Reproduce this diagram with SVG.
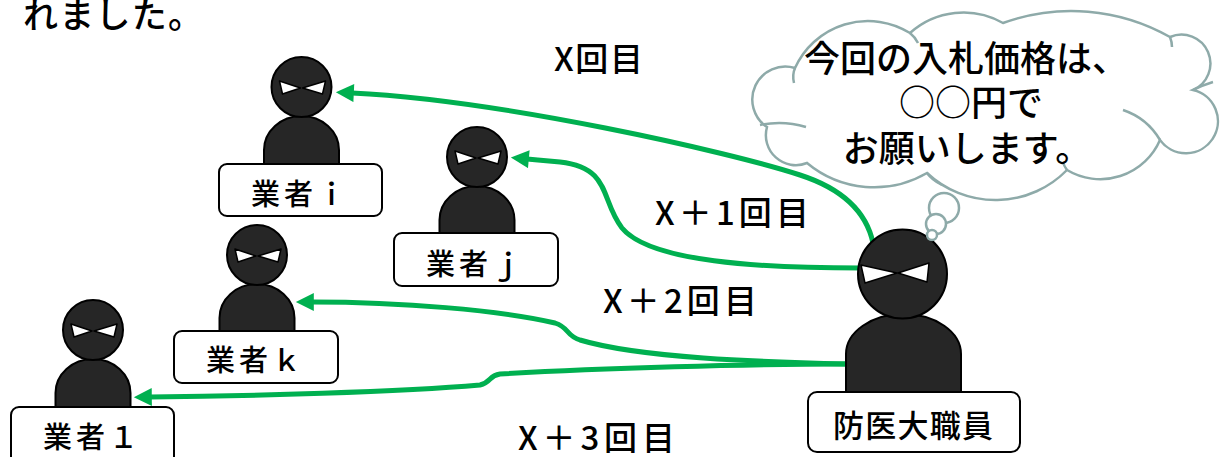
<svg xmlns="http://www.w3.org/2000/svg" xmlns:xlink="http://www.w3.org/1999/xlink" width="1222" height="457" viewBox="0 0 1222 457">
  <style>
    text { font-family: "Noto Sans CJK JP", "Noto Sans", sans-serif; font-weight: 500; fill: #000; }
    .head { fill: #262626; stroke: #000; stroke-width: 2; }
    .body { fill: #262626; stroke: #000; stroke-width: 2; }
    .eye { fill: #fff; stroke: #000; stroke-width: 1.5; stroke-linejoin: round; }
    .tag { fill: #fff; stroke: #000; stroke-width: 2; }
    .tagtext { font-size: 29px; }
    .lbl { font-size: 33px; }
    .cloud { fill: #fff; stroke: #8eaaa9; stroke-width: 2.5; }
    .crease { fill: none; stroke: #8eaaa9; stroke-width: 2.5; }
    .flow { fill: none; stroke: #00b050; stroke-width: 5; stroke-linecap: butt; }
  </style>
  <defs>
    <marker id="ah" viewBox="0 0 10 10" refX="1" refY="5" markerWidth="4" markerHeight="3.6" orient="auto-start-reverse" markerUnits="strokeWidth">
      <path d="M0,0 L10,5 L0,10 Z" fill="#00b050"/>
    </marker>
    <!-- bidder figure, head centred at the origin -->
    <g id="person">
      <path class="body" d="M-37.5,80 L-37.5,63 A37.5,34 0 0 1 37.5,63 L37.5,80 Z"/>
      <circle class="head" cx="0" cy="0" r="30"/>
      <path class="eye" d="M-22,-6 L-1,1 L-19,7 Z"/>
      <path class="eye" d="M24,-6 L1,1 L21,7 Z"/>
    </g>
  </defs>

  <rect width="1222" height="457" fill="#fff"/>

  <text x="23" y="28" font-size="35" textLength="180" lengthAdjust="spacing">れました。</text>

  <!-- connectors -->
  <g id="connectors">
    <path class="flow" marker-end="url(#ah)" d="M873,243 C866,210 840,188 800,175 C730,152 500,100 352,93"/>
    <path class="flow" marker-end="url(#ah)" d="M861,268 C760,268 650,262 622,228 C600,200 612,168 560,162 C548,161 538,160 527,159"/>
    <path class="flow" marker-end="url(#ah)" d="M847,364 C760,362 640,358 580,340 C565,335 570,328 555,323 C500,310 400,302 312,302"/>
    <path class="flow" marker-end="url(#ah)" d="M847,364 C750,364 600,368 500,374 C488,376 492,382 480,385 C400,392 250,396 150,397"/>
  </g>

  <!-- round labels -->
  <g id="round-labels">
    <text class="lbl" x="554" y="71" textLength="89" lengthAdjust="spacing">X回目</text>
    <text class="lbl" x="655" y="225" textLength="154" lengthAdjust="spacing">X＋1回目</text>
    <text class="lbl" x="603" y="313" textLength="154" lengthAdjust="spacing">X＋2回目</text>
    <text class="lbl" x="518" y="450" textLength="157" lengthAdjust="spacing">X＋3回目</text>
  </g>

  <g id="bidder-i">
    <use xlink:href="#person" transform="translate(301.5,87)"/>
    <rect class="tag" x="219" y="164" width="163" height="52" rx="8"/>
    <text class="tagtext" x="251" y="205" textLength="95" lengthAdjust="spacing">業者ｉ</text>
  </g>

  <g id="bidder-j">
    <use xlink:href="#person" transform="translate(477,157)"/>
    <rect class="tag" x="394" y="233" width="164" height="53" rx="8"/>
    <text class="tagtext" x="426" y="275" textLength="95" lengthAdjust="spacing">業者ｊ</text>
  </g>

  <g id="bidder-k">
    <use xlink:href="#person" transform="translate(257,255)"/>
    <rect class="tag" x="174" y="331" width="164" height="52" rx="8"/>
    <text class="tagtext" x="206" y="371" textLength="95" lengthAdjust="spacing">業者ｋ</text>
  </g>

  <g id="bidder-l">
    <use xlink:href="#person" transform="translate(93,330)"/>
    <rect class="tag" x="11" y="407" width="163" height="60" rx="8"/>
    <text class="tagtext" x="43" y="448" textLength="95" lengthAdjust="spacing">業者１</text>
  </g>

  <g id="staff">
    <path class="body" d="M846,400 L846,354 A57.5,40 0 0 1 961,354 L961,400 Z"/>
    <circle class="head" cx="902.5" cy="274" r="44.5"/>
    <path class="eye" d="M861,265 L897,273 L865,283 Z"/>
    <path class="eye" d="M929,263 L898,273 L927,282 Z"/>
    <rect class="tag" x="808" y="392" width="212" height="60" rx="9"/>
    <text x="833" y="437" font-size="31" textLength="160" lengthAdjust="spacing">防医大職員</text>
  </g>

  <g id="thought">
    <path class="cloud" d="M807,163 A30,30 0 0 1 767,127 A33,33 0 0 1 795,68 A80,80 0 0 1 910,33 A80,80 0 0 1 1003,23 A200,200 0 0 1 1170,37 A28,28 0 0 1 1193,90 A32,32 0 1 1 1160,140 A65,65 0 0 1 1067,170 A100,100 0 0 1 927,173 A105,105 0 0 1 807,163 Z"/>
    <path class="crease" d="M760,125 Q783,120 806,127"/>
    <path class="crease" d="M795,68 Q792,75 794,83"/>
    <path class="crease" d="M910,33 Q915,37 918,43"/>
    <path class="crease" d="M1170,37 Q1172,42 1172,47"/>
    <path class="crease" d="M1193,90 Q1203,85 1213,82"/>
    <path class="crease" d="M1123,110 Q1147,118 1160,140"/>
    <path class="crease" d="M927,173 Q932,180 942,185"/>
    <path class="crease" d="M1067,170 Q1064,166 1063,162"/>
    <circle class="cloud" cx="944" cy="208" r="15"/>
    <circle class="cloud" cx="936" cy="224" r="10"/>
    <circle class="cloud" cx="932" cy="235" r="5"/>
    <text x="966" y="72" font-size="36" text-anchor="middle">今回の入札価格は、</text>
    <text x="971" y="116" font-size="36" text-anchor="middle">○○円で</text>
    <text x="967" y="162" font-size="36" text-anchor="middle">お願いします。</text>
  </g>
</svg>
